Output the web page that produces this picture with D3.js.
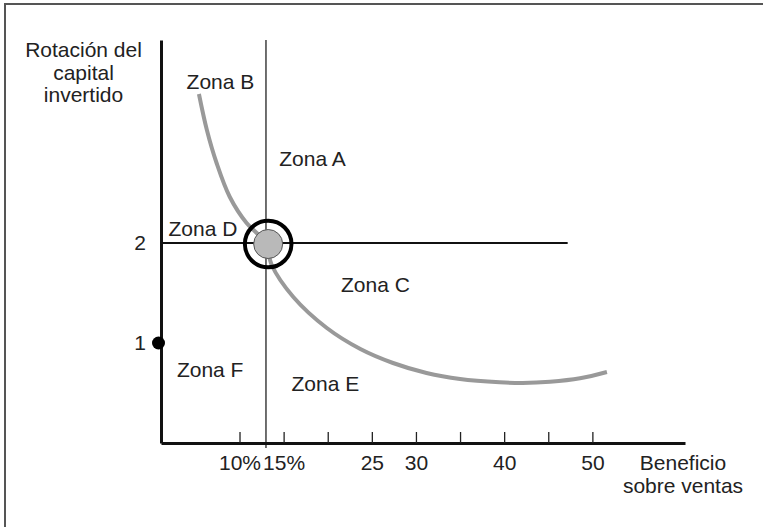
<!DOCTYPE html>
<html lang="es">
<head>
<title>Rotación del capital invertido</title>
<meta charset="utf-8">
<script src="https://d3js.org/d3.v7.min.js"></script>
<style>
	body { margin: 0; background: #fff; }
	text { font-family: "Liberation Sans", Arial, sans-serif; font-size: 21px; fill: #222; }
</style>
</head>
<body>
<div id="chart"></div>

<script type="text/javascript">
	// data
	var xTicks = [10, 15, 20, 25, 30, 35, 40, 45, 50];
	var xTickLabels = ['10%', '15%', '', '25', '30', '', '40', '', '50'];
	var yTicks = [1, 2];
	var yTickLabels = ['1', '2'];

	// curva beneficio / rotacion
	var curveX = [5.4, 6.3, 7.4, 8.9, 10.8, 11.95, 13.0, 13.65, 16.1, 19.9, 23.7, 27.4, 31.2, 35.0, 39.5, 42.1, 45.2, 48.6, 51.65];
	var curveY = [3.49, 3.13, 2.80, 2.46, 2.20, 2.10, 2.00, 1.78, 1.46, 1.15, 0.94, 0.80, 0.70, 0.64, 0.607, 0.600, 0.612, 0.647, 0.71];

	var zoneNames = ['Zona B', 'Zona A', 'Zona D', 'Zona C', 'Zona F', 'Zona E'];
	var zoneX = [4.0, 14.5, 1.95, 21.5, 2.9, 15.9];
	var zoneY = [3.54, 2.77, 2.07, 1.51, 0.665, 0.525];

	var targetX = 13.0,   // linea vertical (15%)
		targetY = 2,      // linea horizontal (rotacion 2)
		hLineEnd = 47.2,
		pointX = 13.25,   // punto objetivo
		pointY = 1.99;

	var xTitle = ['Beneficio', 'sobre ventas'],
		yTitle = ['Rotación del', 'capital', 'invertido'];

	var W = 763, H = 527;

	var svg = d3.select("#chart")
		.append("svg")
		.attr("width", W)
		.attr("height", H);

	// marco
	svg.append("rect")
		.attr("x", 5)
		.attr("y", 4)
		.attr("width", 900)
		.attr("height", 700)
		.attr("fill", "none")
		.attr("stroke", "#555")
		.attr("stroke-width", 2);

	var x = d3.scaleLinear()
		.domain([1.1, 60.5])
		.range([161, 685]);
	var y = d3.scaleLinear()
		.domain([0, 4.03])
		.range([443, 40]);

	// lineas guia
	svg.append("line")
		.attr("x1", x(targetX)).attr("x2", x(targetX))
		.attr("y1", y(-0.05)).attr("y2", y.range()[1])
		.attr("stroke", "#222")
		.attr("stroke-width", 1.3);

	svg.append("line")
		.attr("x1", x.range()[0]).attr("x2", x(hLineEnd))
		.attr("y1", y(targetY)).attr("y2", y(targetY))
		.attr("stroke", "#111")
		.attr("stroke-width", 2);

	// curva
	var line = d3.line()
		.x(function(d, i) { return x(curveX[i]); })
		.y(function(d, i) { return y(curveY[i]); })
		.curve(d3.curveCatmullRom.alpha(0.5));

	svg.append("path")
		.datum(curveX)
		.attr("d", line)
		.attr("fill", "none")
		.attr("stroke", "#999")
		.attr("stroke-width", 4)
		.attr("stroke-linecap", "butt");

	// punto objetivo
	svg.append("circle")
		.attr("cx", x(pointX))
		.attr("cy", y(pointY))
		.attr("r", 23.3)
		.attr("fill", "none")
		.attr("stroke", "#000")
		.attr("stroke-width", 4);
	svg.append("circle")
		.attr("cx", x(pointX))
		.attr("cy", y(pointY))
		.attr("r", 14.5)
		.attr("fill", "#b9b9b9")
		.attr("stroke", "#555")
		.attr("stroke-width", 1);

	// eje x
	var xAxis = svg.append("g")
		.attr("transform", "translate(0," + y(0) + ")")
		.call(d3.axisBottom(x)
			.tickValues(xTicks)
			.tickFormat(function(d, i) { return xTickLabels[i]; })
			.tickSizeInner(-11)
			.tickSizeOuter(0)
			.tickPadding(12));
	xAxis.select(".domain").attr("stroke", "#111").attr("stroke-width", 3);
	xAxis.selectAll(".tick line").attr("stroke", "#222").attr("stroke-width", 1.3);
	xAxis.selectAll("text").attr("fill", null);
	xAxis.attr("font-size", null).attr("font-family", null);

	// eje y
	var yAxis = svg.append("g")
		.attr("transform", "translate(" + x.range()[0] + ",0)")
		.call(d3.axisLeft(y)
			.tickValues(yTicks)
			.tickFormat(function(d, i) { return yTickLabels[i]; })
			.tickSize(0)
			.tickPadding(15));
	yAxis.select(".domain").attr("stroke", "#111").attr("stroke-width", 3);
	yAxis.selectAll("text").attr("fill", null);
	yAxis.attr("font-size", null).attr("font-family", null);

	// punto en rotacion 1
	svg.append("circle")
		.attr("cx", x.range()[0] - 2.5)
		.attr("cy", y(1))
		.attr("r", 6.5)
		.attr("fill", "#000");

	// zonas
	svg.selectAll(".zona")
		.data(zoneNames)
		.enter()
		.append("text")
		.attr("class", "zona")
		.attr("x", function(d, i) { return x(zoneX[i]); })
		.attr("y", function(d, i) { return y(zoneY[i]); })
		.text(function(d) { return d; });

	// titulos de ejes
	svg.append("text")
		.attr("text-anchor", "middle")
		.selectAll("tspan")
		.data(yTitle)
		.enter()
		.append("tspan")
		.attr("x", 83.5)
		.attr("y", function(d, i) { return 57 + i * 22.5; })
		.text(function(d) { return d; });

	svg.append("text")
		.attr("text-anchor", "middle")
		.selectAll("tspan")
		.data(xTitle)
		.enter()
		.append("tspan")
		.attr("x", 683)
		.attr("y", function(d, i) { return 470 + i * 23; })
		.text(function(d) { return d; });
</script>

</body>
</html>
